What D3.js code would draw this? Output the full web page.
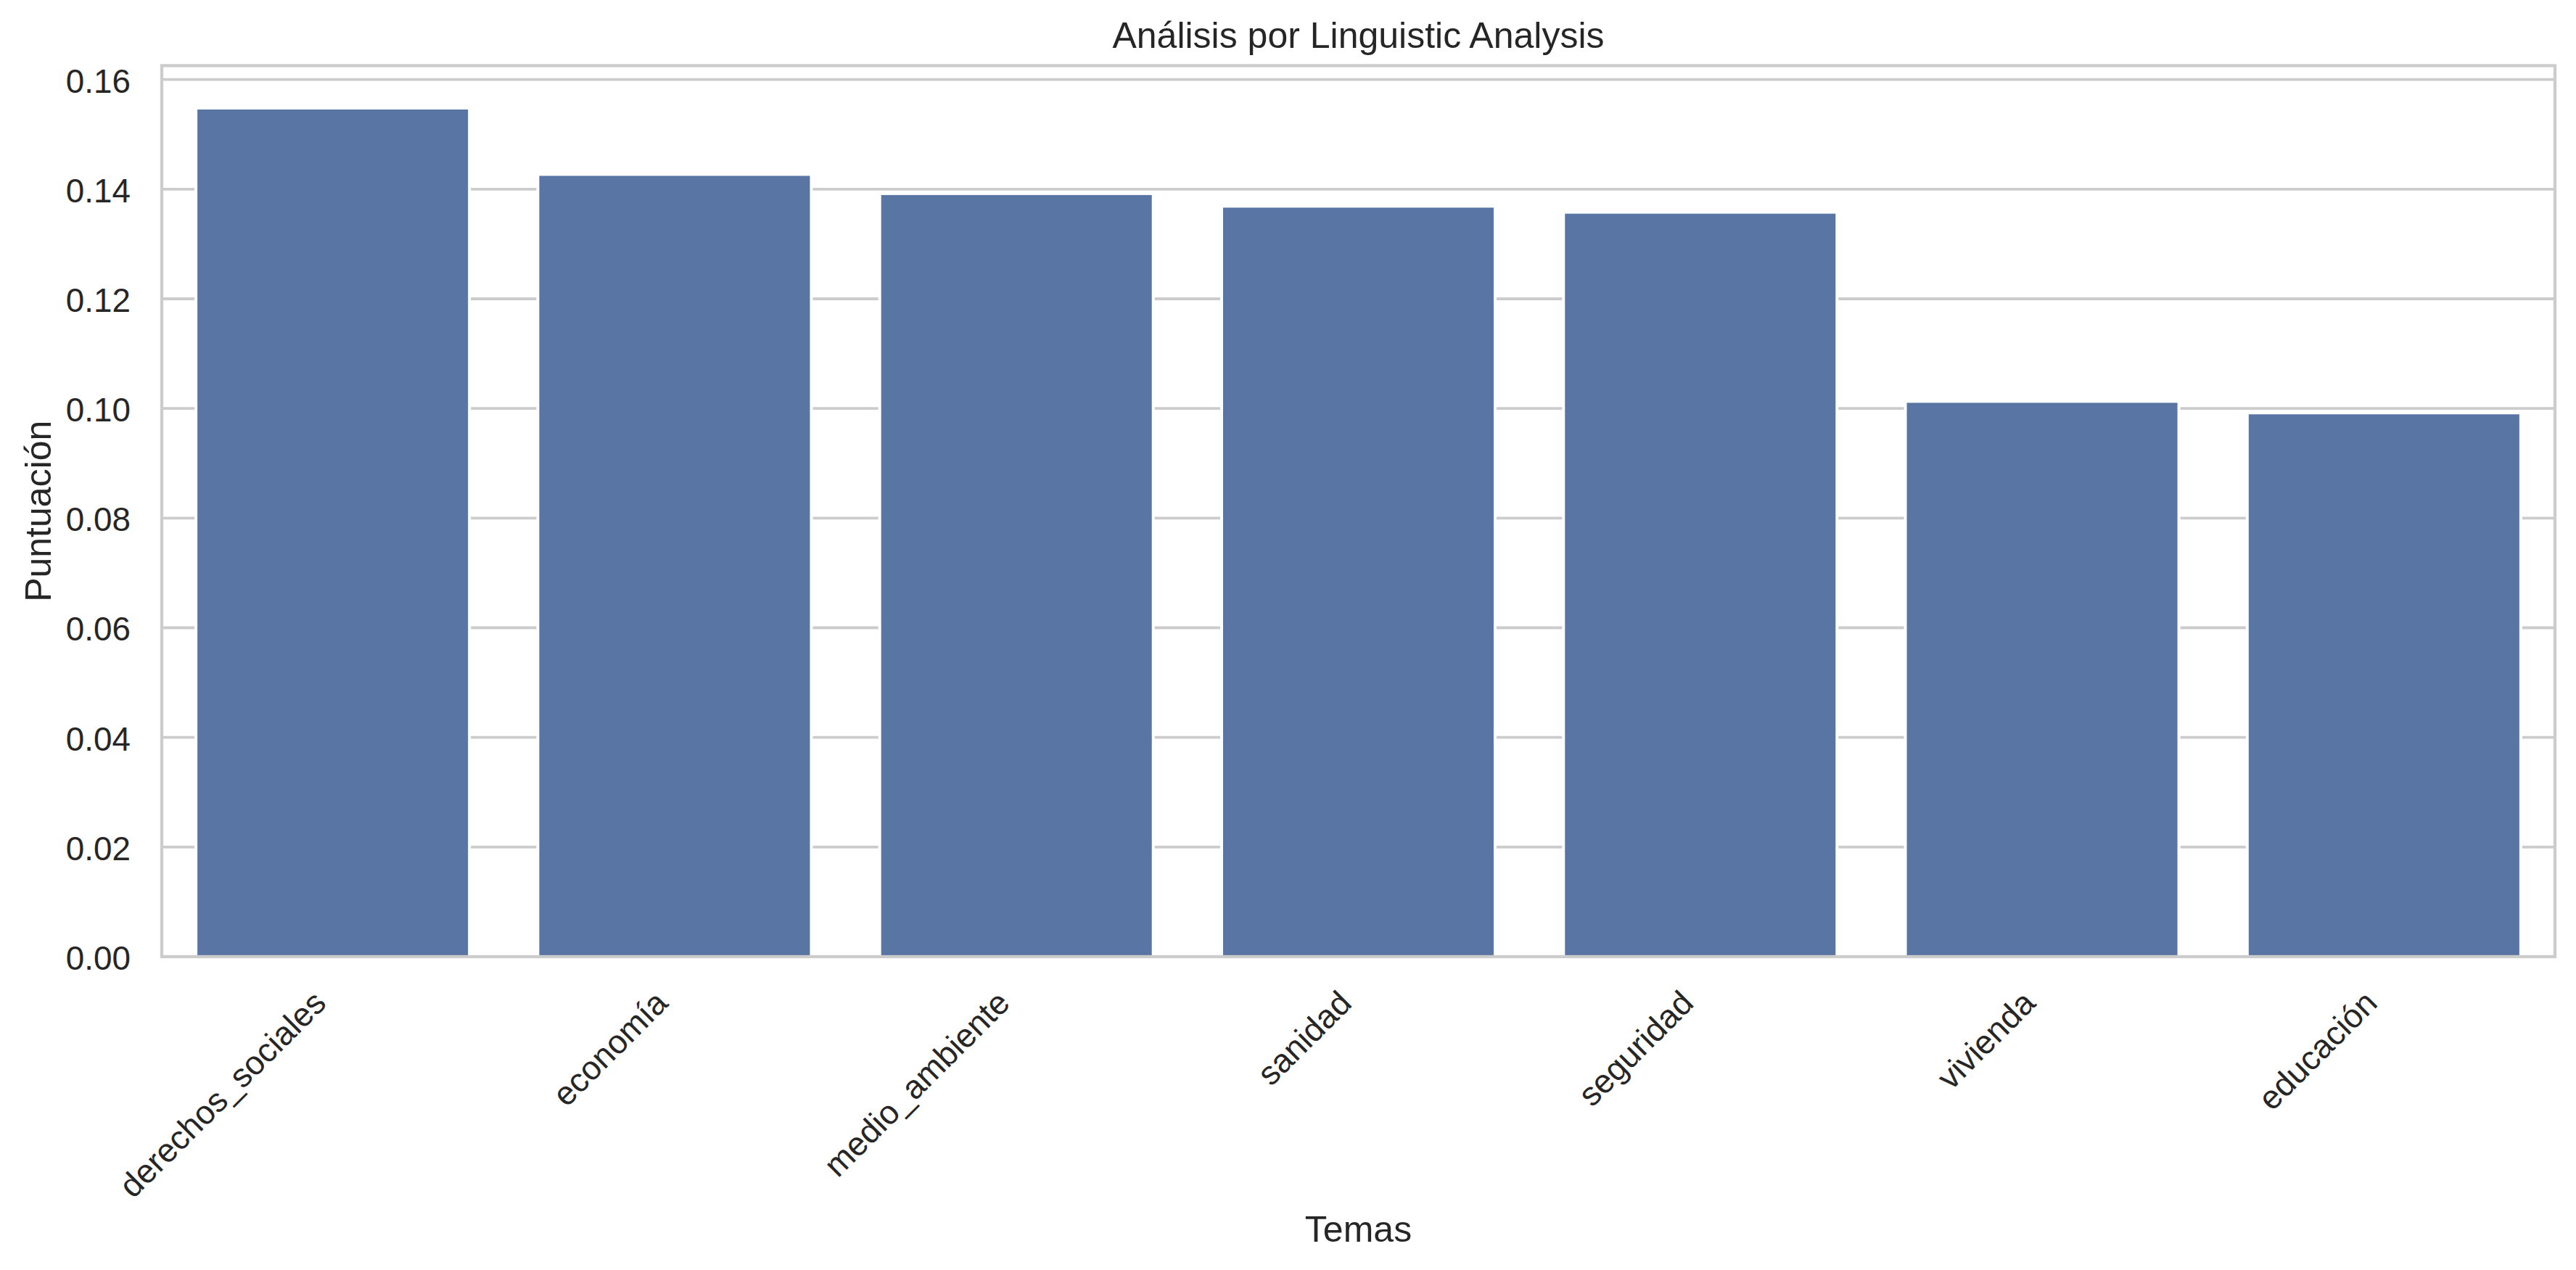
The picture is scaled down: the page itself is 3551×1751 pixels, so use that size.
<!DOCTYPE html>
<html>
<head>
<meta charset="utf-8">
<script src="https://cdn.jsdelivr.net/npm/d3@7"></script>
<style>
  html, body { margin: 0; padding: 0; background: #ffffff; }
  svg { display: block; }
  text { font-family: "Liberation Sans", Arial, sans-serif; fill: #262626; }
</style>
</head>
<body>
<svg id="chart" width="3551" height="1751"></svg>
<script>
const categories = ["derechos_sociales", "economía", "medio_ambiente", "sanidad", "seguridad", "vivienda", "educación"];
const values = [0.1548, 0.1427, 0.1392, 0.1369, 0.1358, 0.1013, 0.0992];
const yTicks = [0.00, 0.02, 0.04, 0.06, 0.08, 0.10, 0.12, 0.14, 0.16];
const titleText = "Análisis por Linguistic Analysis";
const xLabelText = "Temas";
const yLabelText = "Puntuación";

(function () {
const W = 3551, H = 1751;
const mLeft = 223, mRight = 3522, mTop = 90.5, mBottom = 1319;
const svg = d3.select("#chart");

const x = d3.scaleBand().domain(categories).range([mLeft, mRight]).paddingInner(0.2).paddingOuter(0.1);
const yMax = d3.max(values) * 1.05;
const y = d3.scaleLinear().domain([0, yMax]).range([mBottom, mTop]);

svg.append("rect").attr("x", 0).attr("y", 0).attr("width", W).attr("height", H).attr("fill", "#ffffff");

// gridlines
svg.append("g").selectAll("line").data(yTicks).join("line")
  .attr("x1", mLeft).attr("x2", mRight)
  .attr("y1", d => y(d)).attr("y2", d => y(d))
  .attr("stroke", "#cccccc").attr("stroke-width", 3.8);

// bars
svg.append("g").selectAll("rect").data(values).join("rect")
  .attr("x", (d, i) => x(categories[i]))
  .attr("width", x.bandwidth())
  .attr("y", d => y(d))
  .attr("height", d => y(0) - y(d))
  .attr("fill", "#5975a4")
  .attr("stroke", "#ffffff").attr("stroke-width", 4);

// spines
svg.append("rect").attr("x", mLeft).attr("y", mTop).attr("width", mRight - mLeft).attr("height", mBottom - mTop)
  .attr("fill", "none").attr("stroke", "#cccccc").attr("stroke-width", 4.3);

// y tick labels
const yAxis = d3.axisLeft(y).tickValues(yTicks).tickFormat(d3.format(".2f")).tickSize(0).tickPadding(43);
const gy = svg.append("g").attr("transform", `translate(${mLeft},0)`).call(yAxis);
gy.select(".domain").remove();
gy.selectAll("text").attr("font-size", 45.8).attr("fill", "#262626")
  .attr("font-family", "'Liberation Sans', Arial, sans-serif").attr("dy", "0.38em");

// x tick labels rotated 45
const fs = 45.8;
const asc = 0.729 * fs, desc = 0.21 * fs;
const xAxis = d3.axisBottom(x).tickSize(0).tickFormat(d => d);
const gx = svg.append("g").attr("transform", `translate(0,${mBottom})`).call(xAxis);
gx.select(".domain").remove();
gx.selectAll(".tick text")
  .attr("font-size", fs).attr("fill", "#262626")
  .attr("font-family", "'Liberation Sans', Arial, sans-serif")
  .attr("text-anchor", "end")
  .attr("y", 0).attr("dy", 0)
  .attr("transform", `translate(${-0.707 * desc},${43 + 0.707 * asc}) rotate(-45)`);

// title
svg.append("text").attr("x", (mLeft + mRight) / 2).attr("y", 66)
  .attr("text-anchor", "middle").attr("font-size", 50).text(titleText);

// x label
svg.append("text").attr("x", (mLeft + mRight) / 2).attr("y", 1712)
  .attr("text-anchor", "middle").attr("font-size", 50).text(xLabelText);

// y label
svg.append("text").attr("transform", `translate(70,${(mTop + mBottom) / 2}) rotate(-90)`)
  .attr("text-anchor", "middle").attr("font-size", 50).text(yLabelText);
})();
</script>
</body>
</html>
